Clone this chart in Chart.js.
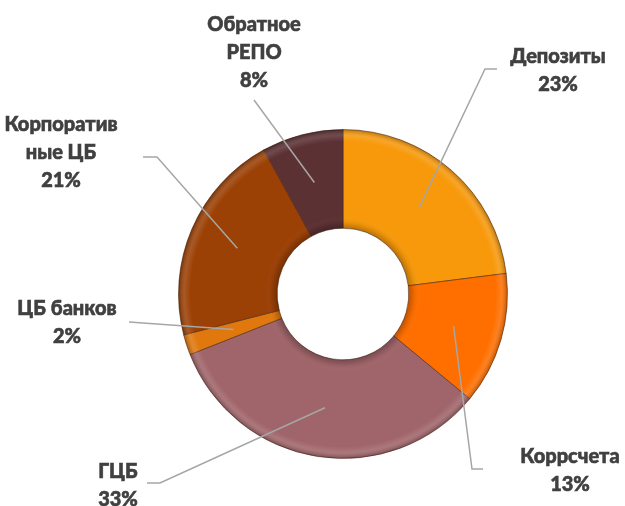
<!DOCTYPE html>
<html>
<head>
<meta charset="utf-8">
<script src="https://cdn.jsdelivr.net/npm/chart.js@4.4.0/dist/chart.umd.min.js"></script>
<style>
  html, body { margin: 0; padding: 0; background: #fff; }
  #wrap { width: 625px; height: 506px; }
</style>
</head>
<body>
<div id="wrap"><canvas id="chart"></canvas></div>
<script>
// data
const categories = [["Депозиты"], ["Коррсчета"], ["ГЦБ"], ["ЦБ банков"], ["Корпоратив", "ные ЦБ"], ["Обратное", "РЕПО"]];
const shares = [23, 13, 33, 2, 21, 8];
const sliceColors = ["#F7990B", "#FF6F00", "#A0656A", "#E0780E", "#9C4106", "#5C3134"];

// where each label sits (text centre of first line) and its leader elbow / end
const labelLayout = [
  { x: 558, y: 57,  elbow: [485, 69],  end: [497, 69] },
  { x: 570, y: 457, elbow: [472, 469], end: [483, 469] },
  { x: 118, y: 472, elbow: [160, 483], end: [147, 483] },
  { x: 67,  y: 309, elbow: [129, 322], end: [129, 322] },
  { x: 61,  y: 125, elbow: [157, 157], end: [143, 157] },
  { x: 254, y: 25,  elbow: [254, 100], end: [254, 100] },
];

const lineHeight = 28;

const bevel = {
  id: "bevel",
  afterDatasetsDraw(chart) {
    const arcs = chart.getDatasetMeta(0).data;
    if (!arcs.length) return;
    const { x, y, innerRadius, outerRadius } = arcs[0];
    const ctx = chart.ctx;
    ctx.save();
    ctx.beginPath();
    ctx.arc(x, y, outerRadius, 0, Math.PI * 2);
    ctx.arc(x, y, innerRadius, 0, Math.PI * 2, true);
    ctx.clip();
    const g = ctx.createRadialGradient(x, y, innerRadius, x, y, outerRadius);
    const w = outerRadius - innerRadius;
    g.addColorStop(0, "rgba(0,0,0,0.25)");
    g.addColorStop(6 / w, "rgba(0,0,0,0.05)");
    g.addColorStop(12 / w, "rgba(255,255,255,0)");
    g.addColorStop(1 - 12 / w, "rgba(255,255,255,0)");
    g.addColorStop(1 - 6 / w, "rgba(255,255,255,0.12)");
    g.addColorStop(1, "rgba(0,0,0,0.25)");
    ctx.fillStyle = g;
    ctx.fillRect(x - outerRadius, y - outerRadius, outerRadius * 2, outerRadius * 2);
    ctx.restore();
  },
};

const labels = {
  id: "leaderLabels",
  afterDraw(chart) {
    const ctx = chart.ctx;
    const arcs = chart.getDatasetMeta(0).data;
    ctx.save();
    ctx.strokeStyle = "#A6A6A6";
    ctx.lineWidth = 1.5;
    arcs.forEach((arc, i) => {
      const p = arc.getCenterPoint();
      const l = labelLayout[i];
      ctx.beginPath();
      ctx.moveTo(p.x, p.y);
      ctx.lineTo(l.elbow[0], l.elbow[1]);
      ctx.lineTo(l.end[0], l.end[1]);
      ctx.stroke();
    });
    ctx.fillStyle = "#404040";
    ctx.strokeStyle = "#404040";
    ctx.lineWidth = 0.6;
    ctx.font = "900 20px Lato";
    ctx.textAlign = "center";
    ctx.textBaseline = "middle";
    arcs.forEach((arc, i) => {
      const l = labelLayout[i];
      const lines = categories[i].concat([shares[i] + "%"]);
      lines.forEach((t, k) => {
        ctx.fillText(t, l.x, l.y + k * lineHeight);
        ctx.strokeText(t, l.x, l.y + k * lineHeight);
      });
    });
    ctx.restore();
  },
};

new Chart(document.getElementById("chart"), {
  type: "doughnut",
  data: {
    labels: categories.map((c) => c.join("")),
    datasets: [
      {
        data: shares,
        backgroundColor: sliceColors,
        borderColor: "rgba(70,35,20,0.55)",
        borderWidth: 1,
      },
    ],
  },
  options: {
    responsive: true,
    maintainAspectRatio: false,
    animation: false,
    cutout: "40%",
    layout: { padding: { left: 178, right: 117, top: 129, bottom: 47 } },
    plugins: {
      legend: { display: false },
      tooltip: { enabled: false },
    },
  },
  plugins: [bevel, labels],
});
</script>
</body>
</html>
